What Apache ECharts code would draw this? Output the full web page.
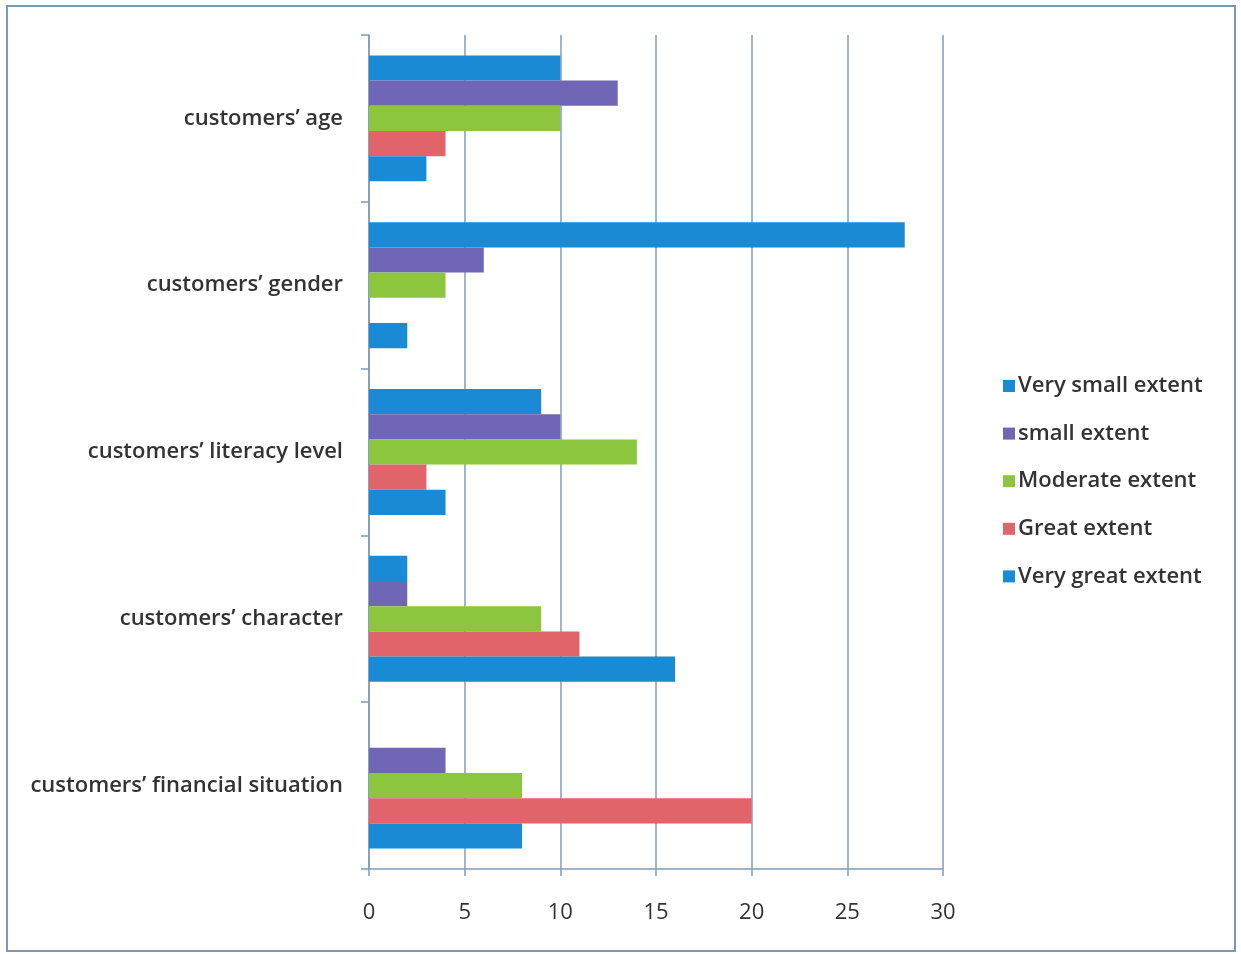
<!DOCTYPE html>
<html>
<head>
<meta charset="utf-8">
<title>Customer factors and credit accessibility</title>
<script src="https://cdn.jsdelivr.net/npm/echarts@6/dist/echarts.min.js"></script>
<style>
  html, body { margin: 0; padding: 0; background: #ffffff; }
  #chart { width: 1241px; height: 954px; }
</style>
</head>
<body>
<div id="chart"></div>
<script>
// Factors listed top to bottom
const categories = [
  'customers\u2019 age',
  'customers\u2019 gender',
  'customers\u2019 literacy level',
  'customers\u2019 character',
  'customers\u2019 financial situation'
];

const seriesNames = [
  'Very small extent',
  'small extent',
  'Moderate extent',
  'Great extent',
  'Very great extent'
];

// Number of respondents per factor, one array per extent
const verySmallExtent = [10, 28, 9, 2, 0];
const smallExtent     = [13, 6, 10, 2, 4];
const moderateExtent  = [10, 4, 14, 9, 8];
const greatExtent     = [4, 0, 3, 11, 20];
const veryGreatExtent = [3, 2, 4, 16, 8];

const xTicks = [0, 5, 10, 15, 20, 25, 30];

const values = [verySmallExtent, smallExtent, moderateExtent, greatExtent, veryGreatExtent];
const colors = ['#1a8ad4', '#6f66b6', '#8cc63f', '#e0646a', '#1a8ad4'];

const axisColor = '#7f9cb9';
const textColor = '#333333';
const fontFamily = '"Open Sans", Lato, sans-serif';

const chart = echarts.init(document.getElementById('chart'));

chart.setOption({
  backgroundColor: '#ffffff',
  animation: false,
  textStyle: { fontFamily: fontFamily },
  grid: { left: 369, right: 298, top: 35, bottom: 85, containLabel: false },
  legend: {
    orient: 'vertical',
    left: 998,
    top: 370,
    icon: 'rect',
    itemWidth: 12,
    itemHeight: 12,
    itemGap: 25.6,
    data: seriesNames,
    textStyle: { color: textColor, fontSize: 22, fontWeight: 600, fontFamily: fontFamily, padding: [0, 0, 0, -2] }
  },
  xAxis: {
    type: 'value',
    min: xTicks[0],
    max: xTicks[xTicks.length - 1],
    interval: 5,
    axisLine: { show: true, lineStyle: { color: axisColor, width: 1.5 } },
    axisTick: { show: true, length: 7, lineStyle: { color: axisColor, width: 1.5 } },
    axisLabel: { color: textColor, fontSize: 22, margin: 33, fontFamily: fontFamily },
    splitLine: { show: true, lineStyle: { color: axisColor, width: 1.5 } }
  },
  yAxis: {
    type: 'category',
    inverse: true,
    data: categories,
    axisLine: { show: true, lineStyle: { color: axisColor, width: 1.5 } },
    axisTick: { show: true, length: 8, lineStyle: { color: axisColor, width: 1.5 } },
    axisLabel: { color: textColor, fontSize: 22, fontWeight: 600, margin: 26, fontFamily: fontFamily },
    splitLine: { show: false }
  },
  series: seriesNames.map((name, i) => ({
    name: name,
    type: 'bar',
    data: values[i],
    barGap: '0%',
    barCategoryGap: '24.5%',
    itemStyle: { color: colors[i] }
  })),
  graphic: [{
    type: 'rect',
    shape: { x: 7, y: 6, width: 1228, height: 945 },
    style: { fill: 'none', stroke: '#7c9aab', lineWidth: 2 },
    silent: true
  }]
});
</script>
</body>
</html>
